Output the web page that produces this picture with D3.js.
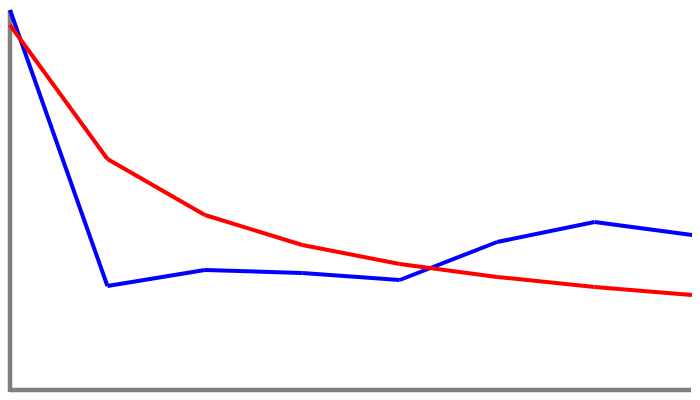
<!DOCTYPE html>
<html>
<head>
<meta charset="utf-8">
<script src="https://cdn.jsdelivr.net/npm/d3@7"></script>
<style>
  html, body { margin: 0; padding: 0; background: #fff; }
</style>
</head>
<body>
<svg id="chart"></svg>
<script>
// values (index along x, value up from the axis)
const steps = [0, 1, 2, 3, 4, 5, 6, 7];
const blueValues = [380, 104, 120, 117, 110, 148, 168, 155];
const redValues = [365, 231, 175, 145, 126, 113, 103, 95];

const width = 700;
const height = 400;
const margin = { top: 10, right: 8, bottom: 10, left: 10 };

const svg = d3.select('#chart')
  .attr('width', width)
  .attr('height', height);

const x = d3.scaleLinear()
  .domain([0, 7])
  .range([margin.left, width - margin.right]);

const y = d3.scaleLinear()
  .domain([0, 380])
  .range([height - margin.bottom, margin.top]);

// axes: plain grey lines, no ticks
svg.append('line')
  .attr('x1', x(0)).attr('x2', x(0))
  .attr('y1', y(380)).attr('y2', y(0) + 2)
  .attr('stroke', '#808080')
  .attr('stroke-width', 4.5);

svg.append('line')
  .attr('x1', x(0)).attr('x2', x(7) - 1)
  .attr('y1', y(0)).attr('y2', y(0))
  .attr('stroke', '#808080')
  .attr('stroke-width', 4.5);

// draw each series as separate segments
function drawSeries(values, color) {
  const segs = d3.pairs(steps.map((s, i) => [s, values[i]]));
  svg.append('g')
    .selectAll('line')
    .data(segs)
    .join('line')
    .attr('x1', d => x(d[0][0]))
    .attr('y1', d => y(d[0][1]))
    .attr('x2', d => x(d[1][0]))
    .attr('y2', d => y(d[1][1]))
    .attr('stroke', color)
    .attr('stroke-width', 4)
    .attr('stroke-linecap', 'butt');
}

drawSeries(blueValues, '#0000ff');
drawSeries(redValues, '#ff0000');
</script>
</body>
</html>
